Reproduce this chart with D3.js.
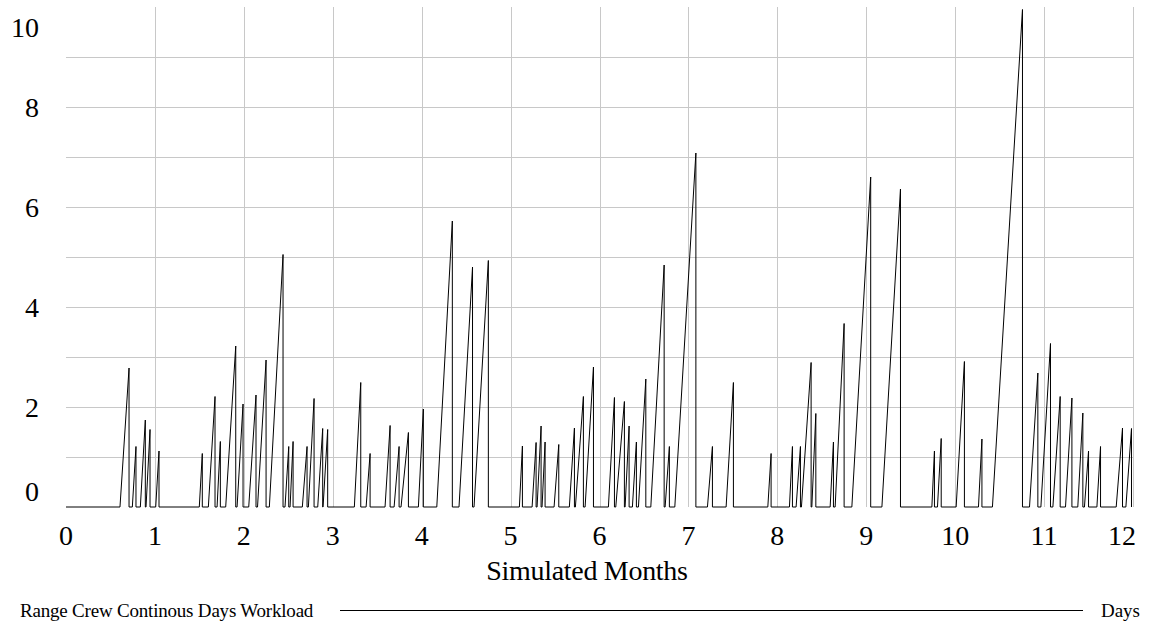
<!DOCTYPE html>
<html>
<head>
<meta charset="utf-8">
<script src="https://cdn.jsdelivr.net/npm/d3@7"></script>
<style>
  html, body { margin: 0; padding: 0; background: #fff; }
  svg { display: block; }
  text { font-family: "Liberation Serif", "Times New Roman", serif; fill: #000; }
</style>
</head>
<body>
<svg id="chart" width="1156" height="643"></svg>
<script>
// ---- data (months / days) ----
const spikeStart = [0.607,0.746,0.836,0.900,1.009,1.499,1.601,1.699,1.796,1.924,2.055,2.154,2.287,2.463,2.520,2.658,2.726,2.831,2.891,3.243,3.375,3.588,3.690,3.768,3.963,4.170,4.420,4.589,5.099,5.242,5.298,5.354,5.489,5.661,5.729,5.838,6.100,6.183,6.288,6.370,6.438,6.577,6.738,6.847,7.214,7.424,7.893,8.136,8.211,8.271,8.388,8.594,8.650,8.838,9.176,9.738,9.801,10.011,10.262,10.419,10.836,10.964,11.099,11.241,11.379,11.454,11.594,11.811,11.920];
const spikeEnd   = [0.709,0.787,0.892,0.945,1.046,1.533,1.676,1.736,1.909,1.991,2.137,2.250,2.441,2.505,2.554,2.711,2.790,2.887,2.943,3.315,3.420,3.645,3.746,3.851,4.019,4.345,4.572,4.750,5.133,5.287,5.343,5.388,5.542,5.718,5.819,5.932,6.168,6.280,6.333,6.415,6.521,6.727,6.786,7.084,7.270,7.506,7.930,8.170,8.260,8.380,8.433,8.631,8.751,9.050,9.385,9.767,9.843,10.104,10.301,10.757,10.930,11.072,11.181,11.313,11.436,11.500,11.635,11.882,11.983];
const spikePeak  = [2.78,1.21,1.74,1.55,1.12,1.07,2.21,1.31,3.22,2.06,2.24,2.94,5.05,1.21,1.31,1.21,2.17,1.57,1.55,2.49,1.07,1.63,1.21,1.49,1.96,5.72,4.80,4.93,1.22,1.29,1.62,1.30,1.25,1.58,2.21,2.80,2.19,2.11,1.62,1.30,2.56,4.84,1.21,7.08,1.21,2.49,1.07,1.21,1.21,2.89,1.87,1.30,3.67,6.60,6.36,1.12,1.37,2.91,1.36,9.95,2.68,3.27,2.21,2.18,1.88,1.12,1.21,1.58,1.57];
const xTicks = [0,1,2,3,4,5,6,7,8,9,10,11,12];
const yTicks = [0,2,4,6,8,10];
const xTitle = "Simulated Months";
const seriesName = "Range Crew Continous Days Workload";
const seriesUnit = "Days";

// ---- layout ----
const svg = d3.select("#chart");
const x = d3.scaleLinear().domain([0, 12]).range([66, 1133]);
const y = d3.scaleLinear().domain([0, 10]).range([507, 7]);
const px = v => Math.round(v) + 0.5;

// grid
const grid = svg.append("g").attr("stroke", "#c8c8c8").attr("stroke-width", 1);
grid.selectAll("line.h").data(d3.range(1, 10)).join("line")
  .attr("x1", x(0)).attr("x2", x(12))
  .attr("y1", d => px(y(d))).attr("y2", d => px(y(d)));
grid.selectAll("line.v").data(d3.range(1, 13)).join("line")
  .attr("x1", d => px(x(d))).attr("x2", d => px(x(d)))
  .attr("y1", y(10)).attr("y2", y(0));

// y tick labels
svg.append("g").selectAll("text").data(yTicks).join("text")
  .attr("x", 39)
  .attr("y", d => y(d))
  .attr("dy", d => d === 10 ? 30 : (d === 0 ? -6 : 10))
  .attr("text-anchor", "end")
  .attr("font-size", 28)
  .text(d => d);

// x tick labels
svg.append("g").selectAll("text").data(xTicks).join("text")
  .attr("x", d => d === 12 ? x(d) + 3 : x(d))
  .attr("y", 545)
  .attr("text-anchor", d => d === 12 ? "end" : "middle")
  .attr("font-size", 28)
  .text(d => d);

svg.append("text").attr("x", 587).attr("y", 580)
  .attr("text-anchor", "middle").attr("font-size", 28)
  .attr("letter-spacing", -0.3)
  .text(xTitle);

// series path
const pts = [[0, 0]];
spikeStart.forEach((s, i) => {
  pts.push([s, 0], [spikeEnd[i], spikePeak[i]], [spikeEnd[i], 0]);
});
const line = d3.line().x(d => x(d[0])).y(d => y(d[1]));
svg.append("path").datum(pts)
  .attr("d", line)
  .attr("fill", "none")
  .attr("stroke", "#000")
  .attr("stroke-width", 1)
  .attr("stroke-linejoin", "miter");

// legend
const lg = svg.append("g");
lg.append("text").attr("x", 20).attr("y", 617).attr("font-size", 19).attr("letter-spacing", -0.2).text(seriesName);
lg.append("line").attr("x1", 340).attr("x2", 1083).attr("y1", 610.5).attr("y2", 610.5)
  .attr("stroke", "#000").attr("stroke-width", 1);
lg.append("text").attr("x", 1140).attr("y", 617).attr("text-anchor", "end").attr("font-size", 19).text(seriesUnit);
</script>
</body>
</html>
